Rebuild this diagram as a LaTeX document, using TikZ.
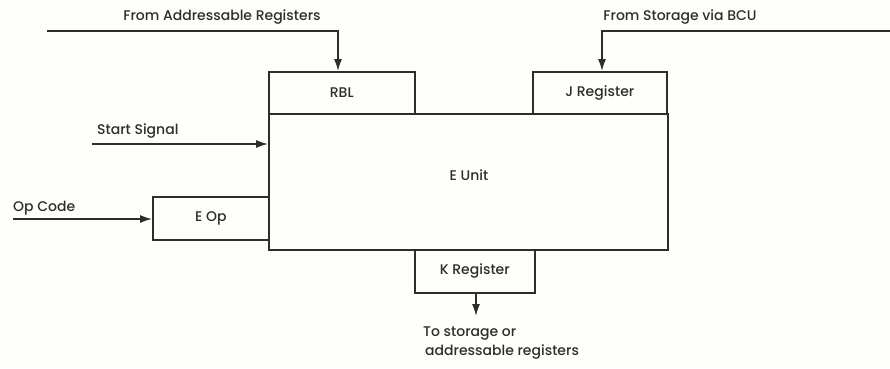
\documentclass[tikz,border=0pt]{standalone}
\usepackage{fontspec}
\setmainfont{Poppins Medium}
\usetikzlibrary{arrows.meta,positioning}
\definecolor{paper}{RGB}{254,254,250}
\definecolor{ink}{RGB}{45,45,45}
\begin{document}
\begin{tikzpicture}[x=1pt,y=-1pt,
  font=\fontsize{14}{16}\selectfont,
  every node/.style={text=ink},
  regbox/.style={draw=ink, line width=1.6pt, anchor=north west, inner sep=0pt},
  wire/.style={draw=ink, line width=1.5pt},
  flow/.style={wire, -{Latex[length=12pt,width=8pt]}},
  caption/.style={inner sep=0pt}]
  % canvas
  \fill[paper] (0,0) rectangle (890,368);
  \useasboundingbox (0,0) rectangle (890,368);

  % main unit and its registers
  \node[regbox, minimum width=399pt, minimum height=136pt] (eunit) at (268,113) {};
  \node (eunitlbl) at (469,175) {E Unit};
  \node[regbox, minimum width=146pt, minimum height=42pt] (rbl) at (268,71) {RBL};
  \node[regbox, minimum width=134pt, minimum height=42pt] (jreg) at (532,71) {J Register};
  \node[regbox, minimum width=116pt, minimum height=43pt] (eop) at (152,196) {E Op};
  \node[regbox, minimum width=120pt, minimum height=43pt] (kreg) at (414,249) {K Register};

  % incoming from the addressable registers
  \node[caption] (lblA) at (222,17) {From Addressable Registers};
  \coordinate (inA) at (47,31);
  \coordinate (bendA) at (338,31);
  \draw[flow] (inA) -- (bendA) -- (bendA |- rbl.north);

  % incoming from storage via the BCU
  \node[caption] (lblJ) at (680,17) {From Storage via BCU};
  \coordinate (inJ) at (890,31);
  \coordinate (bendJ) at (602,31);
  \draw[flow] (inJ) -- (bendJ) -- (bendJ |- jreg.north);

  % start signal
  \node[caption, anchor=west] (lblS) at (97,131) {Start Signal};
  \coordinate (inS) at (92,144);
  \draw[flow] (inS) -- (inS -| eunit.west);

  % op code
  \node[caption, anchor=west] (lblOp) at (13,208) {Op Code};
  \coordinate (inOp) at (13,219);
  \draw[flow] (inOp) -- (inOp -| eop.west);

  % result out of the K register
  \coordinate (outK) at (476,316);
  \draw[flow] (kreg.south -| outK) -- (outK);
  \node[caption, anchor=west] (lblK1) at (423,334) {To storage or};
  \node[caption, anchor=west] (lblK2) at (425,352) {addressable registers};
\end{tikzpicture}
\end{document}
